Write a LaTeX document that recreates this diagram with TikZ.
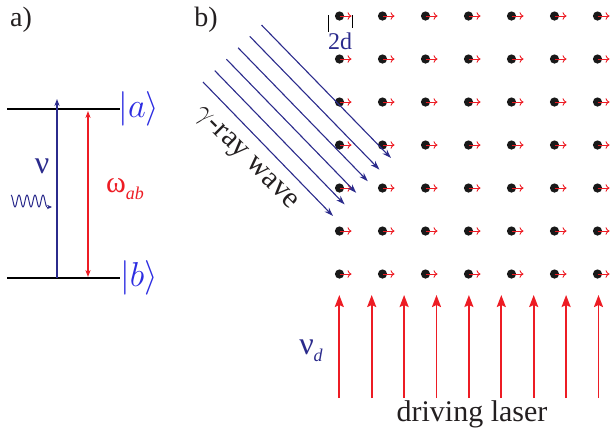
\documentclass[tikz,border=0pt]{standalone}
\usepackage{fontspec}
\setmainfont{Liberation Serif}
\usepackage{tikz}
\usetikzlibrary{arrows.meta}
\definecolor{navy}{RGB}{43,43,140}
\definecolor{ketblue}{RGB}{45,45,225}
\definecolor{laserred}{RGB}{237,28,36}
\definecolor{inkgray}{RGB}{35,31,32}

\begin{document}
\begin{tikzpicture}[x=0.5pt,y=-0.5pt,
  level/.style={line width=1.2pt,black},
  dot/.style={circle,fill=black!90,inner sep=0pt,minimum size=4.6pt},
  dipole/.style={laserred,line width=0.45pt,-{To[length=2pt,width=3.8pt]}},
  gammaray/.style={navy,line width=0.55pt,-{Stealth[length=4.5pt,width=3pt]}},
  laser/.style={laserred,line width=0.9pt,-{Stealth[length=6pt,width=4.5pt,inset=1pt]}},
  panel/.style={inkgray,font=\fontsize{14}{16}\selectfont}]
  \useasboundingbox (0,0) rectangle (611,430);

  % --- a) two-level atom ---
  \node[panel] (lbla) at (21,20) {a)};
  \coordinate (up0) at (7,109);  \coordinate (up1) at (120,109);
  \coordinate (lo0) at (7,278);  \coordinate (lo1) at (120,278);
  \draw[level] (up0) -- (up1);
  \draw[level] (lo0) -- (lo1);
  \node[ketblue,font=\fontsize{16}{18}\selectfont] (keta) at (139,109) {$|a\rangle$};
  \node[ketblue,font=\fontsize{16}{18}\selectfont] (ketb) at (139,278) {$|b\rangle$};
  % photon absorption
  \coordinate (ph0) at (57,278); \coordinate (ph1) at (57,99);
  \draw[navy,line width=0.55pt,-{Stealth[length=3.5pt,width=2.6pt]}] (ph0) -- (ph1);
  \node[navy,font=\fontsize{16}{18}\selectfont] (nu) at (42,166) {ν};
  \draw[navy,line width=0.5pt] plot[smooth,samples=73,domain=11:47,variable=\t]
    ({\t},{201-6*cos(45*(\t-11))});
  \coordinate (wv0) at (47,207); \coordinate (wv1) at (52,207);
  \draw[navy,line width=0.5pt,-{Stealth[length=2.5pt,width=2.2pt]}] (wv0) -- (wv1);
  % transition frequency
  \coordinate (om0) at (88,111); \coordinate (om1) at (88,277);
  \draw[laserred,line width=0.55pt,{Stealth[length=3.5pt,width=2.6pt]}-{Stealth[length=3.5pt,width=2.6pt]}] (om0) -- (om1);
  \node[laserred,font=\fontsize{15}{17}\selectfont,anchor=west] (omab) at (99,189)
    {ω\raisebox{-0.45ex}{\fontsize{9}{9}\selectfont\itshape ab}};

  % --- b) nuclei lattice ---
  \node[panel] (lblb) at (206,20) {b)};
  \foreach \c in {0,...,6}{%
    \foreach \r in {0,...,6}{%
      \node[dot] (n-\c-\r) at ({339.5+43*\c},{16+43*\r}) {};
      \coordinate (m-\c-\r) at ({351.5+43*\c},{16+43*\r});
      \draw[dipole] (n-\c-\r.center) -- (m-\c-\r);
    }
  }
  % lattice spacing
  \coordinate (sb0) at (328,15); \coordinate (sb1) at (328,32);
  \coordinate (sb2) at (352,15); \coordinate (sb3) at (352,28);
  \draw[black,line width=0.4pt] (sb0) -- (sb1);
  \draw[black,line width=0.4pt] (sb2) -- (sb3);
  \node[navy,font=\fontsize{12}{14}\selectfont] (spacing) at (340,41) {2d};

  % gamma-ray wave fronts
  \foreach \k in {0,...,5}{%
    \coordinate (gs\k) at ({203+11.7*\k},{82-11.4*\k});
    \coordinate (ge\k) at ({333+11.6*\k},{216-11.6*\k});
    \draw[gammaray] (gs\k) -- (ge\k);
  }
  \node[inkgray,font=\fontsize{15}{17}\selectfont,rotate=-45] (gamma) at (245,159) {$\gamma$-ray wave};

  % driving laser
  \foreach \k in {0,...,8}{%
    \coordinate (ls\k) at ({339.3+32.4*\k},398);
    \coordinate (lt\k) at ({339.3+32.4*\k},295);
    \draw[laser] (ls\k) -- (lt\k);
  }
  \node[navy,font=\fontsize{16}{18}\selectfont] (nud) at (311,351)
    {ν\raisebox{-0.5ex}{\fontsize{9}{9}\selectfont\itshape d}};
  \node[inkgray,font=\fontsize{15}{17}\selectfont] (drv) at (472,414) {driving laser};
\end{tikzpicture}
\end{document}
